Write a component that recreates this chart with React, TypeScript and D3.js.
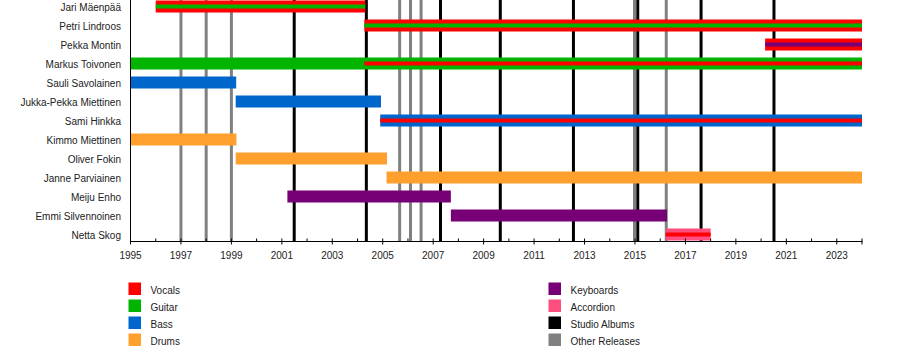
import React from "react";
import * as d3 from "d3";

const members = [
  "Jari Mäenpää", "Petri Lindroos", "Pekka Montin", "Markus Toivonen",
  "Sauli Savolainen", "Jukka-Pekka Miettinen", "Sami Hinkka", "Kimmo Miettinen",
  "Oliver Fokin", "Janne Parviainen", "Meiju Enho", "Emmi Silvennoinen", "Netta Skog",
];

// Main bars (one per member)
const barMembers = members;
const barStarts = [1996.0, 2004.27, 2020.16, 1995, 1995, 1999.17, 2004.9, 1995, 1999.17, 2005.15, 2001.22, 2007.7, 2016.22];
const barEnds = [2004.31, 2024, 2024, 2024, 1999.19, 2004.93, 2024, 1999.2, 2005.17, 2024, 2007.7, 2016.27, 2018.0];
const barRoles = ["Vocals", "Vocals", "Vocals", "Guitar", "Bass", "Bass", "Bass", "Drums", "Drums", "Drums", "Keyboards", "Keyboards", "Accordion"];

// Secondary role stripes
const stripeMembers = ["Jari Mäenpää", "Petri Lindroos", "Pekka Montin", "Markus Toivonen", "Sami Hinkka", "Netta Skog"];
const stripeStarts = [1996.0, 2004.27, 2020.16, 2004.27, 2004.9, 2016.22];
const stripeEnds = [2004.31, 2024, 2024, 2024, 2024, 2018.0];
const stripeRoles = ["Guitar", "Guitar", "Keyboards", "Vocals", "Vocals", "Vocals"];

const studioAlbums = [2001.49, 2004.35, 2007.29, 2009.66, 2012.56, 2015.11, 2017.62, 2020.51];
const otherReleases = [1997.0, 1998.0, 1999.0, 2005.67, 2006.1, 2006.52, 2014.98, 2016.24];

const legendLeft = ["Vocals", "Guitar", "Bass", "Drums"];
const legendRight = ["Keyboards", "Accordion", "Studio Albums", "Other Releases"];
const legendColors: Record<string, string> = {
  Vocals: "#ff0000",
  Guitar: "#00b400",
  Bass: "#0066cc",
  Drums: "#ffa02e",
  Keyboards: "#770077",
  Accordion: "#ff4f80",
  "Studio Albums": "#000000",
  "Other Releases": "#808080",
};

const yearDomain: [number, number] = [1995, 2024];
const majorTicks = d3.range(1995, 2024, 2);
const minorTicks = d3.range(1995, 2025, 1);

export default function App() {
  const font = "'Liberation Sans', Arial, sans-serif";
  const x = d3.scaleLinear().domain(yearDomain).range([130.5, 862]);
  const y = d3.scalePoint<string>().domain(members).range([6.5, 6.5 + 19 * (members.length - 1)]);
  const axisY = 241.5;
  const barH = 12;
  const stripeH = 4;

  return (
    <div style={{ position: "absolute", left: 0, top: 0 }}>
      <svg width={900} height={355} style={{ display: "block", background: "#fff" }} fontFamily={font}>
        {/* release lines */}
        {otherReleases.map((d, i) => (
          <line key={"o" + i} x1={x(d)} x2={x(d)} y1={0} y2={axisY} stroke="#808080" strokeWidth={3} />
        ))}
        {studioAlbums.map((d, i) => (
          <line key={"s" + i} x1={x(d)} x2={x(d)} y1={0} y2={axisY} stroke="#000" strokeWidth={3} />
        ))}
        {/* bars */}
        {barMembers.map((m, i) => (
          <rect key={"b" + i} x={x(barStarts[i])} width={x(barEnds[i]) - x(barStarts[i])}
            y={(y(m) as number) - barH / 2} height={barH} fill={legendColors[barRoles[i]]} />
        ))}
        {stripeMembers.map((m, i) => (
          <rect key={"st" + i} x={x(stripeStarts[i])} width={x(stripeEnds[i]) - x(stripeStarts[i])}
            y={(y(m) as number) - stripeH / 2} height={stripeH} fill={legendColors[stripeRoles[i]]} />
        ))}
        {/* member labels */}
        {members.map((m) => (
          <text key={m} x={121} y={(y(m) as number) + 4} textAnchor="end" fontSize={10} fill="#222">{m}</text>
        ))}
        {/* axes */}
        <line x1={130.5} x2={130.5} y1={0} y2={axisY} stroke="#000" strokeWidth={1} />
        <line x1={130} x2={862.5} y1={axisY} y2={axisY} stroke="#000" strokeWidth={1} />
        {minorTicks.map((t) => (
          <line key={"mt" + t} x1={x(t)} x2={x(t)} y1={axisY - 3} y2={axisY} stroke="#000" strokeWidth={1} />
        ))}
        {majorTicks.map((t) => (
          <g key={"Mt" + t}>
            <line x1={x(t)} x2={x(t)} y1={axisY} y2={axisY + 3} stroke="#000" strokeWidth={1} />
            <text x={x(t)} y={259} textAnchor="middle" fontSize={10} fill="#222">{t}</text>
          </g>
        ))}
        <line x1={x(2024)} x2={x(2024)} y1={axisY} y2={axisY + 3} stroke="#000" strokeWidth={1} />
        {/* legend */}
        {legendLeft.map((l, i) => (
          <g key={l}>
            <rect x={128.5} y={282.5 + i * 17} width={12.5} height={12.5} fill={legendColors[l]} />
            <text x={150.5} y={294 + i * 17} fontSize={10} fill="#222">{l}</text>
          </g>
        ))}
        {legendRight.map((l, i) => (
          <g key={l}>
            <rect x={548.5} y={282.5 + i * 17} width={12.5} height={12.5} fill={legendColors[l]} />
            <text x={570.5} y={294 + i * 17} fontSize={10} fill="#222">{l}</text>
          </g>
        ))}
      </svg>
    </div>
  );
}
